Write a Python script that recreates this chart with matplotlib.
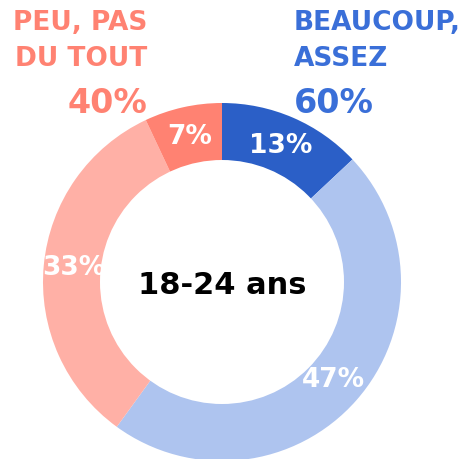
import matplotlib.pyplot as plt
from matplotlib.patches import Circle

# shares, clockwise from the top
labels = ['Beaucoup', 'Assez', 'Peu', 'Pas du tout']
values = [13, 47, 33, 7]
colors = ['#2b5fc7', '#aec4ef', '#ffb0a6', '#ff8272']

group_neg = 'PEU, PAS\nDU TOUT'
group_pos = 'BEAUCOUP,\nASSEZ'
pct_neg = '40%'
pct_pos = '60%'
center_label = '18-24 ans'

W, H = 475, 459
fig = plt.figure(figsize=(W / 100, H / 100), dpi=100)
ax = fig.add_axes([0, 0, 1, 1])

cx, cy, r = 222, H - 282, 179
wedges, texts, autotexts = ax.pie(values, colors=colors, startangle=90, counterclock=False,
                                  center=(cx, cy), radius=r, autopct='%d%%', pctdistance=0.83,
                                  textprops=dict(color='white', fontweight='bold', fontsize=19))
for t in autotexts:
    t.set_zorder(2)
# hole drawn over the labels, as in the original
ax.add_patch(Circle((cx, cy), 122, facecolor='white', edgecolor='none', zorder=2.5))

ax.text(cx, cy - 3, center_label, ha='center', va='center', fontsize=22,
        fontweight='bold', color='black', zorder=3)

ax.text(147, H - 10, group_neg, ha='right', va='top', fontsize=19, fontweight='bold',
        color='#ff8272', linespacing=1.5)
ax.text(147, H - 120, pct_neg, ha='right', va='bottom', fontsize=24, fontweight='bold',
        color='#ff8272')
ax.text(294, H - 10, group_pos, ha='left', va='top', fontsize=19, fontweight='bold',
        color='#3a6fd8', linespacing=1.5)
ax.text(294, H - 120, pct_pos, ha='left', va='bottom', fontsize=24, fontweight='bold',
        color='#3a6fd8')

ax.set_xlim(0, W)
ax.set_ylim(0, H)
ax.set_aspect('auto')
ax.axis('off')

plt.savefig('out.png', dpi=100)
